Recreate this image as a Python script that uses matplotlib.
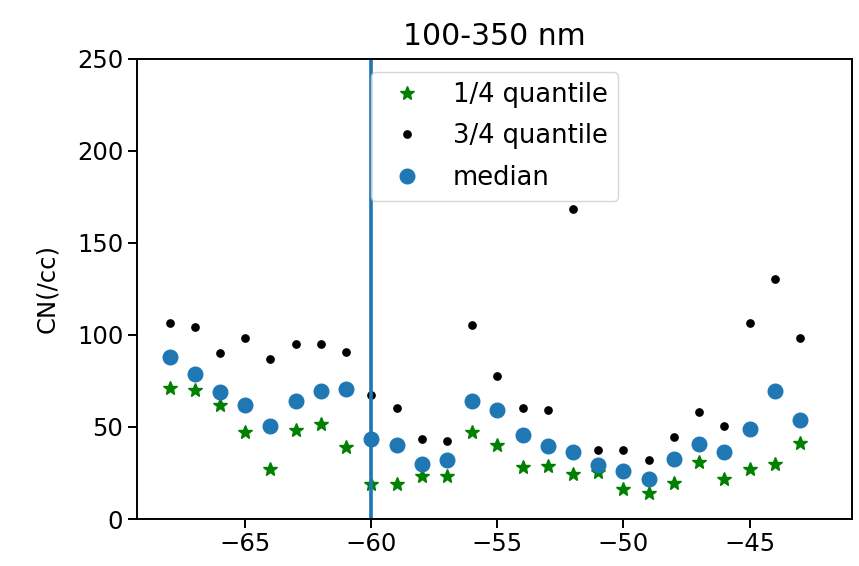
"""CN quantiles vs latitude, 100-350 nm"""
import numpy as np
import matplotlib
matplotlib.use('Agg')
import matplotlib.pyplot as plt

lat = [-68, -67, -66, -65, -64, -63, -62, -61, -60, -59, -58, -57, -56,
       -55, -54, -53, -52, -51, -50, -49, -48, -47, -46, -45, -44, -43]

q25 = [71.3, 70.2, 61.7, 47.1, 27.4, 48.2, 51.4, 39.1, 18.8, 18.8, 23.3, 23.3, 47.3,
       40.0, 28.0, 28.7, 24.4, 25.3, 16.1, 13.9, 19.7, 30.8, 21.8, 27.4, 30.1, 41.3]

q75 = [106.4, 104.1, 90.4, 98.3, 87.0, 95.1, 95.1, 90.5, 67.5, 60.4, 43.5, 42.2, 105.3,
       77.7, 60.4, 59.3, 168.3, 37.7, 37.7, 31.9, 44.5, 58.3, 50.5, 106.4, 130.6, 98.3]

median = [88.2, 78.8, 68.9, 61.7, 50.3, 64.0, 69.8, 70.7, 43.5, 40.0, 29.8, 31.9, 63.9,
          59.3, 45.8, 39.7, 36.4, 29.2, 26.2, 21.5, 32.8, 41.0, 36.4, 49.1, 69.8, 53.6]

cut_lat = -60

# screenshot was blown up ~1.75x from matplotlib defaults
s = 1.75
plt.rcParams.update({
    'font.size': 10 * s,
    'axes.linewidth': 0.8 * s,
    'xtick.major.size': 3.5 * s,
    'ytick.major.size': 3.5 * s,
    'xtick.major.width': 0.8 * s,
    'ytick.major.width': 0.8 * s,
})

fig, ax = plt.subplots(figsize=(8.59, 5.66), dpi=100)
fig.subplots_adjust(left=0.159, right=0.992, top=0.896, bottom=0.083)

ax.plot(lat, q25, '*', color='green', markersize=6 * s, label='1/4 quantile')
ax.plot(lat, q75, '.', color='black', markersize=6 * s, label='3/4 quantile')
ax.plot(lat, median, 'o', color='C0', markersize=6 * s, label='median')
ax.axvline(cut_lat, color='C0', linewidth=1.5 * s)

ax.set_xlim(-69.31, -40.93)
ax.set_ylim(0, 250)
ax.set_ylabel('CN(/cc)', labelpad=13)
ax.set_title('100-350 nm', fontsize=21.5, pad=10)
ax.legend(loc='upper center', fontsize=18.5, labelspacing=0.6)

plt.savefig('out.png', dpi=100)
